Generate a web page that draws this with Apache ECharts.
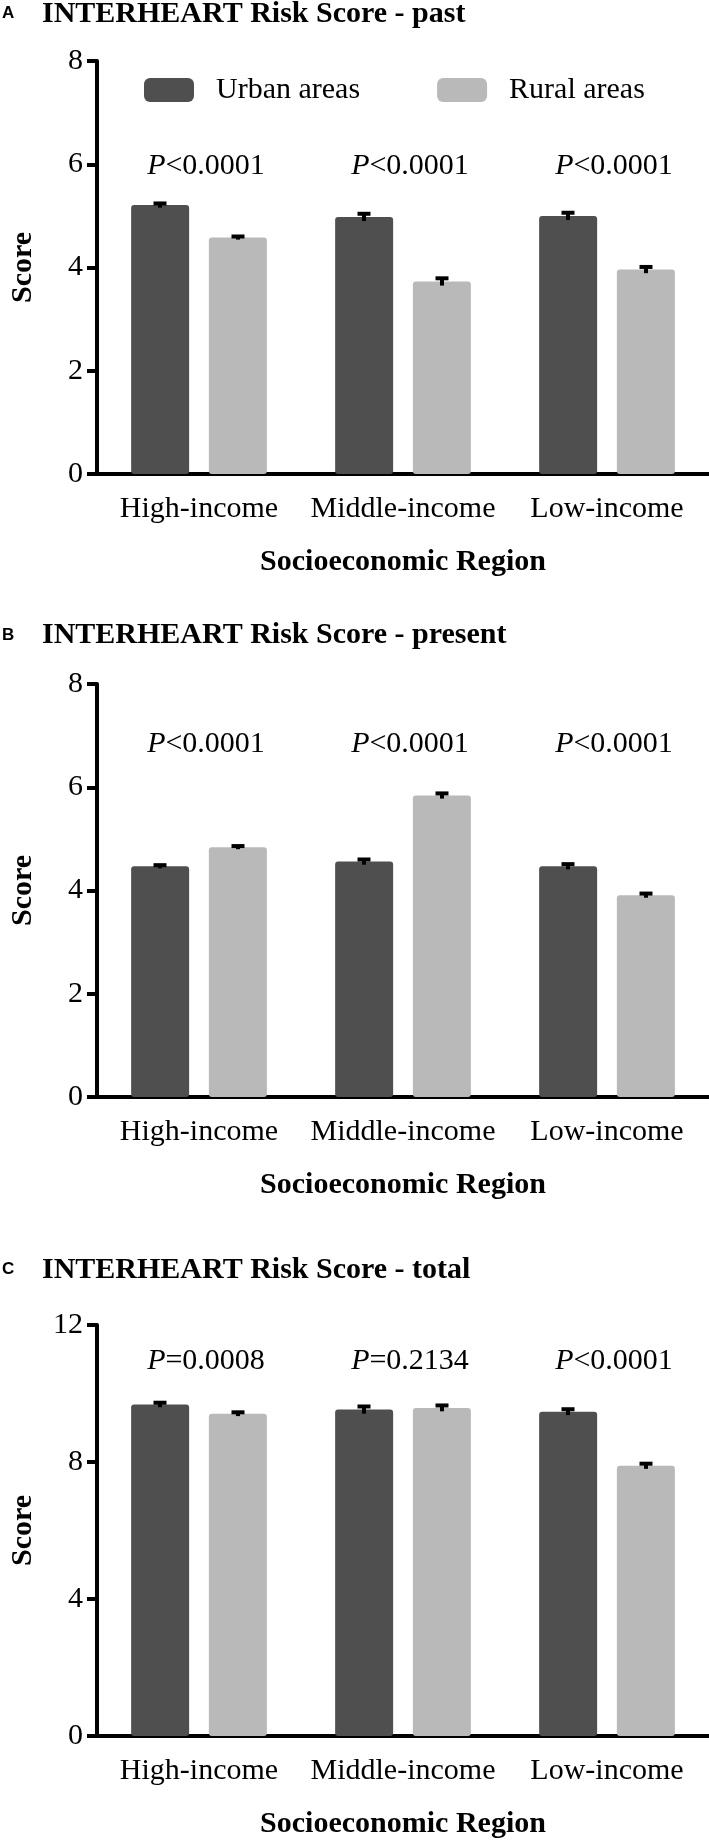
<!DOCTYPE html>
<html><head><meta charset="utf-8">
<script src="https://cdn.jsdelivr.net/npm/echarts@6/dist/echarts.min.js"></script>
<style>html,body{margin:0;padding:0;background:#fff}#c{width:709px;height:1840px}</style>
</head><body><div id="c"></div>
<script>
// ---- data ----
const categories = ['High-income', 'Middle-income', 'Low-income'];
const seriesNames = ['Urban areas', 'Rural areas'];
const panelLetters = ['A', 'B', 'C'];
const panelTitles = ['INTERHEART Risk Score - past', 'INTERHEART Risk Score - present', 'INTERHEART Risk Score - total'];
const pastUrban = [5.21, 4.98, 5.00];
const pastRural = [4.58, 3.73, 3.96];
const pastUrbanErr = [0.05, 0.08, 0.08];
const pastRuralErr = [0.04, 0.08, 0.07];
const presentUrban = [4.47, 4.56, 4.47];
const presentRural = [4.84, 5.84, 3.91];
const presentUrbanErr = [0.04, 0.06, 0.06];
const presentRuralErr = [0.04, 0.06, 0.05];
const totalUrban = [9.68, 9.53, 9.47];
const totalRural = [9.41, 9.58, 7.89];
const totalUrbanErr = [0.08, 0.12, 0.10];
const totalRuralErr = [0.07, 0.10, 0.09];
const pastP = ['<0.0001', '<0.0001', '<0.0001'];
const presentP = ['<0.0001', '<0.0001', '<0.0001'];
const totalP = ['=0.0008', '=0.2134', '<0.0001'];
const yTicksPast = [0, 2, 4, 6, 8];
const yTicksPresent = [0, 2, 4, 6, 8];
const yTicksTotal = [0, 4, 8, 12];

// ---- layout / style ----
const SERIF = 'Liberation Serif, Times New Roman, serif';
const SANS = 'Liberation Sans, Arial, sans-serif';
const DARK = '#4f4f4f', LIGHT = '#b9b9b9';
const panels = [
  {urban: pastUrban, rural: pastRural, ue: pastUrbanErr, re: pastRuralErr, p: pastP, ticks: yTicksPast, top: 61, pY: 5.67, titleTop: -1, letterTop: 5},
  {urban: presentUrban, rural: presentRural, ue: presentUrbanErr, re: presentRuralErr, p: presentP, ticks: yTicksPresent, top: 684, pY: 6.54, titleTop: 620, letterTop: 627},
  {urban: totalUrban, rural: totalRural, ue: totalUrbanErr, re: totalRuralErr, p: totalP, ticks: yTicksTotal, top: 1325, pY: 10.51, titleTop: 1255, letterTop: 1261}
];
const GRID_H = 413, GRID_L = 86;
const BAR_W = 58, BAR_OFF = 39;

const grids = [], xAxes = [], yAxes = [], series = [], titles = [];
panels.forEach((pn, gi) => {
  grids.push({left: GRID_L, right: 0, top: pn.top, height: GRID_H});
  titles.push({text: panelLetters[gi], left: 2, top: pn.letterTop, padding: 0,
    textStyle: {fontFamily: SANS, fontWeight: 'bold', fontSize: 17, lineHeight: 17, color: '#000'}});
  titles.push({text: panelTitles[gi], left: 42, top: pn.titleTop, padding: 0,
    textStyle: {fontFamily: SERIF, fontWeight: 'bold', fontSize: 30, lineHeight: 30, color: '#000'}});
  xAxes.push({type: 'category', gridIndex: gi, data: categories,
    name: 'Socioeconomic Region', nameLocation: 'middle', nameGap: 73,
    nameTextStyle: {fontFamily: SERIF, fontWeight: 'bold', fontSize: 30, lineHeight: 30, color: '#000'},
    axisLine: {lineStyle: {color: '#000', width: 4}},
    axisTick: {alignWithLabel: true, length: 10, lineStyle: {color: '#000', width: 4}},
    axisLabel: {fontFamily: SERIF, fontSize: 30, lineHeight: 30, color: '#000', margin: 20, interval: 0},
    splitLine: {show: false}});
  const t = pn.ticks;
  yAxes.push({type: 'value', gridIndex: gi, min: t[0], max: t[t.length - 1], interval: t[1] - t[0],
    name: 'Score', nameLocation: 'middle', nameGap: 59, nameRotate: 90,
    nameTextStyle: {fontFamily: SERIF, fontWeight: 'bold', fontSize: 30, lineHeight: 30, color: '#000'},
    axisLine: {show: true, lineStyle: {color: '#000', width: 4}},
    axisTick: {show: true, length: 10, lineStyle: {color: '#000', width: 4}},
    axisLabel: {fontFamily: SERIF, fontSize: 30, color: '#000', margin: 14},
    splitLine: {show: false}});
  series.push({type: 'bar', name: seriesNames[0], xAxisIndex: gi, yAxisIndex: gi, data: pn.urban,
    barWidth: BAR_W, barGap: '34%', itemStyle: {color: DARK, borderRadius: 3}, silent: true});
  series.push({type: 'bar', name: seriesNames[1], xAxisIndex: gi, yAxisIndex: gi, data: pn.rural,
    barWidth: BAR_W, barGap: '34%', itemStyle: {color: LIGHT, borderRadius: 3}, silent: true});
  [[pn.urban, pn.ue, -BAR_OFF], [pn.rural, pn.re, BAR_OFF]].forEach(([vals, errs, off]) => {
    series.push({type: 'custom', xAxisIndex: gi, yAxisIndex: gi, z: 5, silent: true,
      data: vals.map((v, i) => [i, v, errs[i]]), encode: {x: 0, y: 1},
      renderItem(params, api) {
        const i = api.value(0), v = api.value(1), e = api.value(2);
        const top = api.coord([i, v + e]), bot = api.coord([i, v - e]);
        const x = top[0] + off;
        return {type: 'group', children: [
          {type: 'rect', shape: {x: x - 2, y: top[1], width: 4, height: bot[1] - top[1]}, style: {fill: '#000'}},
          {type: 'rect', shape: {x: x - 6.5, y: top[1] - 1, width: 13, height: 4}, style: {fill: '#000'}}
        ]};
      }});
  });
  series.push({type: 'custom', xAxisIndex: gi, yAxisIndex: gi, z: 6, silent: true,
    data: pn.p.map((s, i) => [i, pn.pY]), encode: {x: 0, y: 1},
    renderItem(params, api) {
      const i = params.dataIndex;
      const c = api.coord([i, pn.pY]);
      return {type: 'text', x: c[0] + 7, y: c[1], style: {
        text: '{i|P}{n|' + pn.p[i] + '}', align: 'center', verticalAlign: 'bottom',
        rich: {
          i: {fontFamily: SERIF, fontStyle: 'italic', fontSize: 30, lineHeight: 30, fill: '#000'},
          n: {fontFamily: SERIF, fontSize: 30, lineHeight: 30, fill: '#000'}
        }}};
    }});
});

const chart = echarts.init(document.getElementById('c'), null, {renderer: 'canvas'});
chart.setOption({
  animation: false,
  backgroundColor: '#fff',
  title: titles,
  legend: {data: seriesNames, left: 144, top: 75, itemWidth: 50, itemHeight: 24, itemGap: 77,
    icon: 'roundRect', selectedMode: false, padding: 0,
    textStyle: {fontFamily: SERIF, fontSize: 30, lineHeight: 30, color: '#000', padding: [0, 0, 0, 17]}},
  grid: grids, xAxis: xAxes, yAxis: yAxes, series: series
});
</script></body></html>
